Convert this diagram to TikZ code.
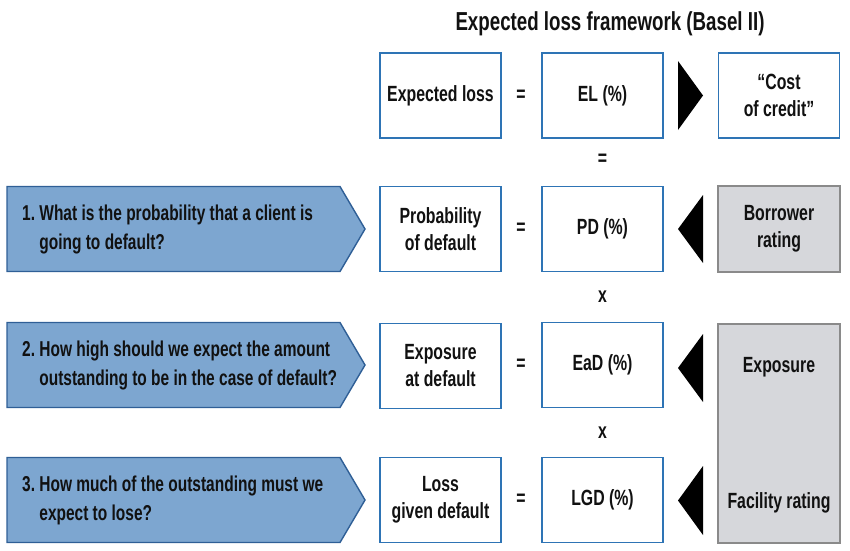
\documentclass[tikz,border=0pt]{standalone}
\usepackage{fontspec}
\setmainfont[FakeStretch=0.72]{Liberation Sans}
\definecolor{boxblue}{HTML}{2E74B5}
\definecolor{qfill}{HTML}{7DA6D0}
\definecolor{qdraw}{HTML}{2F5F96}
\definecolor{gfill}{HTML}{D6D7DB}
\definecolor{gdraw}{HTML}{8A8A8A}
\definecolor{ink}{HTML}{111111}
\tikzset{
  lbl/.style={font=\fontsize{22}{27}\selectfont\bfseries, text=ink, align=center},
  wbox/.style={lbl, draw=boxblue, line width=1.4pt, fill=white, minimum width=121pt, minimum height=85pt, inner sep=0pt},
  gbox/.style={lbl, draw=gdraw, line width=1.4pt, fill=gfill, minimum width=122pt, minimum height=86pt, inner sep=0pt},
  qarrow/.style={draw=qdraw, line width=1.4pt, fill=qfill, line join=miter},
  qtext/.style={font=\fontsize{21.5}{29}\selectfont\bfseries, text=ink, align=left, anchor=west, inner sep=0pt},
  op/.style={lbl},
  tri/.style={fill=black},
}
\newcommand{\qpent}[1]{%
  \draw[qarrow] (7,#1-42.5) -- (340,#1-42.5) -- (365,#1) -- (340,#1+42.5) -- (7,#1+42.5) -- cycle;}
\begin{document}
\begin{tikzpicture}[x=1pt,y=-1pt]
\useasboundingbox (0,0) rectangle (850,550);
\node[font=\fontsize{26}{30}\selectfont\bfseries, text=ink] (title) at (610,24) {Expected loss framework (Basel II)};

% row 1
\node[wbox] (el) at (440.5,95.5) {Expected loss};
\node[op] (eq1) at (521,95.5) {=};
\node[wbox] (elp) at (602.5,95.5) {EL (\%)};
\node[wbox] (cost) at (779,95.5) {“Cost\\of credit”};
\fill[tri] (678,61) -- (703,95.5) -- (678,130) -- cycle;

\node[op] (eqv) at (602.5,160) {=};

% row 2
\qpent{229}
\node[qtext] (q1t) at (22,229) {1.~What is the probability that a client is\\\phantom{1.~}going to default?};
\node[wbox] (pd) at (440.5,229) {Probability\\of default};
\node[op] (eq2) at (521,229) {=};
\node[wbox] (pdp) at (602.5,229) {PD (\%)};
\node[gbox] (bor) at (779,229) {Borrower\\rating};
\fill[tri] (703,195) -- (678,229) -- (703,263) -- cycle;

\node[op] (x1) at (602.5,297) {x};

% row 3
\qpent{365}
\node[qtext] (q2t) at (22,365) {2.~How high should we expect the amount\\\phantom{2.~}outstanding to be in the case of default?};
\node[wbox] (ead) at (440.5,366) {Exposure\\at default};
\node[op] (eq3) at (521,365) {=};
\node[wbox] (eadp) at (602.5,365) {EaD (\%)};
\fill[tri] (703,334) -- (678,368) -- (703,402) -- cycle;

\node[op] (x2) at (602.5,433) {x};

% row 4
\qpent{500}
\node[qtext] (q3t) at (22,500) {3.~How much of the outstanding must we\\\phantom{3.~}expect to lose?};
\node[wbox] (lgd) at (440.5,500) {Loss\\given default};
\node[op] (eq4) at (521,500) {=};
\node[wbox] (lgdp) at (602.5,500) {LGD (\%)};
\fill[tri] (703,466) -- (678,500.5) -- (703,535) -- cycle;

% facility
\node[gbox, minimum height=219pt] (fac) at (779,433.5) {};
\node[lbl] (expo) at (779,367) {Exposure};
\node[lbl] (facr) at (779,503) {Facility rating};
\end{tikzpicture}
\end{document}
